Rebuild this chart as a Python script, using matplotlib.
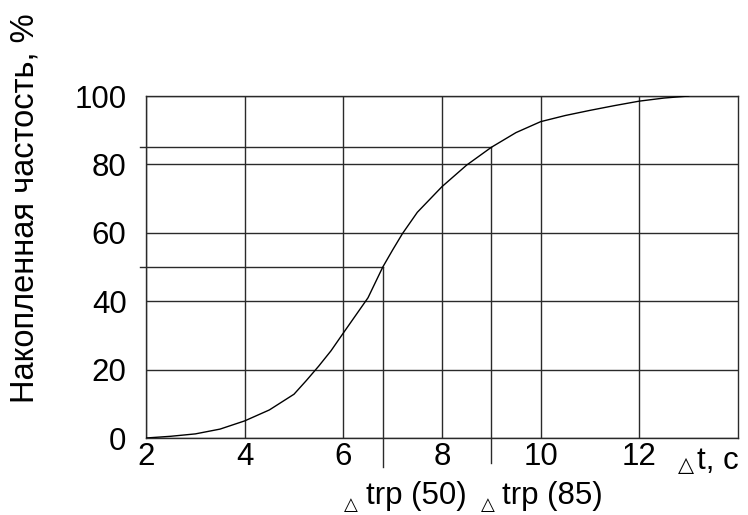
import matplotlib
matplotlib.use("Agg")
import matplotlib.pyplot as plt

plt.rcParams['font.family'] = ['Liberation Sans', 'DejaVu Sans']

# Cumulative frequency curve
t_vals = [2, 2.5, 3, 3.5, 4, 4.5, 5, 5.25, 5.5, 5.75, 6, 6.5, 6.8, 7, 7.2,
          7.5, 8, 8.5, 9, 9.5, 10, 10.5, 11, 11.5, 12, 12.5, 13]
cum_pct = [0, 0.5, 1.2, 2.6, 5, 8.2, 12.8, 16.8, 21, 25.5, 30.7, 41, 50, 55,
           59.8, 66, 73.5, 79.8, 85, 89.3, 92.5, 94.3, 95.8, 97.2, 98.5,
           99.4, 100]

x_ticks = [2, 4, 6, 8, 10, 12]
y_ticks = [0, 20, 40, 60, 80, 100]

# reference levels
t50, p50 = 6.8, 50
t85, p85 = 9.0, 85

W, H = 748, 515
fig = plt.figure(figsize=(W / 100, H / 100), dpi=100)
ax = fig.add_axes([146 / W, 1 - 438 / H, (738 - 146) / W, (438 - 96) / H])

FS = 22.5
lc = '#2a2a2a'

ax.set_xlim(2, 14)
ax.set_ylim(0, 100)
ax.set_xticks(x_ticks)
ax.set_xticklabels([str(v) for v in x_ticks], fontsize=FS)
ax.set_yticks(y_ticks)
ax.set_yticklabels([str(v) for v in y_ticks], fontsize=FS)
ax.tick_params(axis='both', length=0)
ax.tick_params(axis='x', pad=3)
ax.tick_params(axis='y', pad=14)
ax.grid(True, color=lc, linewidth=1.0)
for s in ax.spines.values():
    s.set_color(lc)
    s.set_linewidth(1.0)

ax.plot(t_vals, cum_pct, color='black', linewidth=1.0, zorder=3)

# guide lines for 50 % and 85 %
ax.plot([1.88, t50], [p50, p50], color=lc, lw=1.0, clip_on=False)
ax.plot([t50, t50], [p50, -8.5], color=lc, lw=1.0, clip_on=False)
ax.plot([1.88, t85], [p85, p85], color=lc, lw=1.0, clip_on=False)
ax.plot([t85, t85], [p85, -7.3], color=lc, lw=1.0, clip_on=False)

def px(x, y):
    return x / W, 1 - y / H

# axis labels
fig.text(*px(25, 208), 'Накопленная частость, %', rotation=90,
         ha='center', va='center', fontsize=23.5)
fig.text(*px(678, 471), '△', fontsize=15, ha='left', va='baseline')
fig.text(*px(697, 469), 't, c', fontsize=FS, ha='left', va='baseline')

fig.text(*px(344, 514), '△', fontsize=13, ha='left', va='bottom')
fig.text(*px(366, 504), 'trp (50)', fontsize=FS, ha='left', va='baseline')
fig.text(*px(481, 514), '△', fontsize=13, ha='left', va='bottom')
fig.text(*px(502, 504), 'trp (85)', fontsize=FS, ha='left', va='baseline')

fig.savefig('out.png', dpi=100)
